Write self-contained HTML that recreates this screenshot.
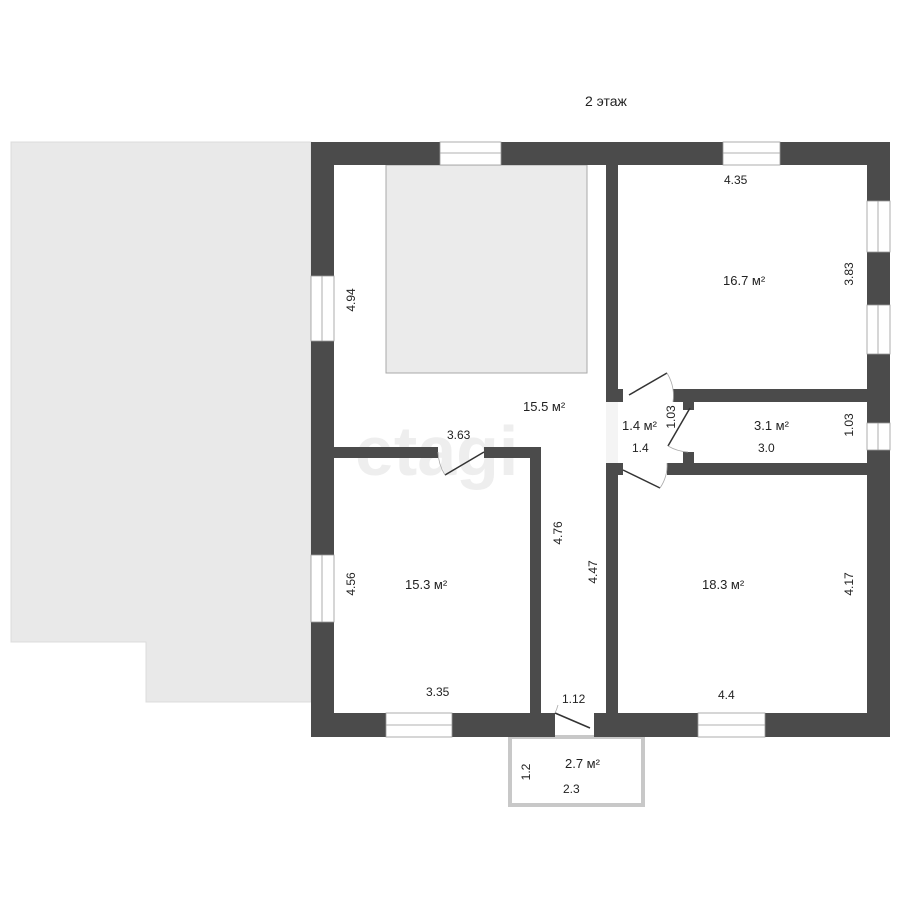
<!DOCTYPE html>
<html><head><meta charset="utf-8"><style>
html,body{margin:0;padding:0;background:#fff;}
svg{display:block}
text{font-family:"Liberation Sans Narrow","Liberation Sans",sans-serif;fill:#222;}
</style></head><body>
<svg width="900" height="900" viewBox="0 0 900 900" xmlns="http://www.w3.org/2000/svg">
<rect width="900" height="900" fill="#fff"/>
<!-- left gray region -->
<path d="M11 142 H311 V702 H146 V642 H11 Z" fill="#e9e9e9" stroke="#dcdcdc" stroke-width="1"/>
<!-- watermark -->
<text x="355" y="475" font-size="70" font-weight="bold" fill="#f1f1f1" style="fill:#eeeeee">etagi</text>
<!-- balcony -->
<rect x="510" y="737" width="133" height="68" fill="#fff" stroke="#c8c8c8" stroke-width="4"/>
<!-- stair/box -->
<rect x="386" y="165" width="201" height="208" fill="#ebebeb" stroke="#aaa" stroke-width="1"/>
<g fill="#4b4b4b">
<!-- outer walls -->
<rect x="311" y="142" width="579" height="23"/>
<rect x="311" y="142" width="23" height="595"/>
<rect x="867" y="142" width="23" height="595"/>
<rect x="311" y="713" width="244" height="24"/>
<rect x="594" y="713" width="296" height="24"/>
<!-- interior -->
<rect x="606" y="165" width="12" height="237"/>
<rect x="606" y="389" width="17" height="13"/>
<rect x="673" y="389" width="194" height="13"/>
<rect x="683" y="402" width="11" height="8"/>
<rect x="683" y="452" width="11" height="11"/>
<rect x="606" y="463" width="17" height="12"/>
<rect x="667" y="463" width="200" height="12"/>
<rect x="606" y="463" width="12" height="250"/>
<rect x="334" y="447" width="104" height="11"/>
<rect x="484" y="447" width="57" height="11"/>
<rect x="530" y="447" width="11" height="266"/>
</g>
<!-- 1.4 room left open strip -->
<rect x="606" y="402" width="12" height="61" fill="#f4f4f4"/>
<!-- windows -->
<g fill="#fff" stroke="#999" stroke-width="0.8">
<rect x="440" y="142" width="61" height="23"/><line x1="440" y1="153" x2="501" y2="153"/>
<rect x="723" y="142" width="57" height="23"/><line x1="723" y1="153" x2="780" y2="153"/>
<rect x="311" y="276" width="23" height="65"/><line x1="322" y1="276" x2="322" y2="341"/>
<rect x="311" y="555" width="23" height="67"/><line x1="322" y1="555" x2="322" y2="622"/>
<rect x="867" y="201" width="23" height="51"/><line x1="878" y1="201" x2="878" y2="252"/>
<rect x="867" y="305" width="23" height="49"/><line x1="878" y1="305" x2="878" y2="354"/>
<rect x="867" y="423" width="23" height="27"/><line x1="878" y1="423" x2="878" y2="450"/>
<rect x="386" y="713" width="66" height="24"/><line x1="386" y1="725" x2="452" y2="725"/>
<rect x="698" y="713" width="67" height="24"/><line x1="698" y1="725" x2="765" y2="725"/>
</g>
<!-- doors -->
<g fill="none" stroke="#333" stroke-width="1.5">
<line x1="629" y1="395" x2="667" y2="373"/>
<line x1="690" y1="408" x2="668" y2="446"/>
<line x1="623" y1="470" x2="660" y2="488"/>
<line x1="484" y1="452" x2="445" y2="475"/>
<line x1="555" y1="713" x2="590" y2="728"/>
</g>
<g fill="none" stroke="#aaa" stroke-width="0.8">
<path d="M667 373 A44 44 0 0 1 673 402"/>
<path d="M668 446 A44 44 0 0 0 688 452"/>
<path d="M660 488 A40 40 0 0 0 667 463"/>
<path d="M445 475 A46 46 0 0 1 438 452"/>
<path d="M555 713 A40 40 0 0 0 558 705"/>
</g>
<!-- labels -->
<g font-size="12">
<text x="585" y="106" font-size="14">2 этаж</text>
<text x="724" y="184">4.35</text>
<text x="723" y="285" font-size="13">16.7 м²</text>
<text x="523" y="411" font-size="13">15.5 м²</text>
<text x="622" y="430" font-size="13">1.4 м²</text>
<text x="632" y="452">1.4</text>
<text x="754" y="430" font-size="13">3.1 м²</text>
<text x="758" y="452">3.0</text>
<text x="447" y="439">3.63</text>
<text x="405" y="589" font-size="13">15.3 м²</text>
<text x="702" y="589" font-size="13">18.3 м²</text>
<text x="426" y="696">3.35</text>
<text x="718" y="699">4.4</text>
<text x="562" y="703">1.12</text>
<text x="565" y="768" font-size="13">2.7 м²</text>
<text x="563" y="793">2.3</text>
<text transform="translate(355,300) rotate(-90)" x="0" y="0" text-anchor="middle">4.94</text>
<text transform="translate(355,584) rotate(-90)" text-anchor="middle">4.56</text>
<text transform="translate(562,533) rotate(-90)" text-anchor="middle">4.76</text>
<text transform="translate(597,572) rotate(-90)" text-anchor="middle">4.47</text>
<text transform="translate(853,274) rotate(-90)" text-anchor="middle">3.83</text>
<text transform="translate(853,425) rotate(-90)" text-anchor="middle">1.03</text>
<text transform="translate(675,417) rotate(-90)" text-anchor="middle">1.03</text>
<text transform="translate(853,584) rotate(-90)" text-anchor="middle">4.17</text>
<text transform="translate(530,772) rotate(-90)" text-anchor="middle">1.2</text>
</g>
</svg>
</body></html>
